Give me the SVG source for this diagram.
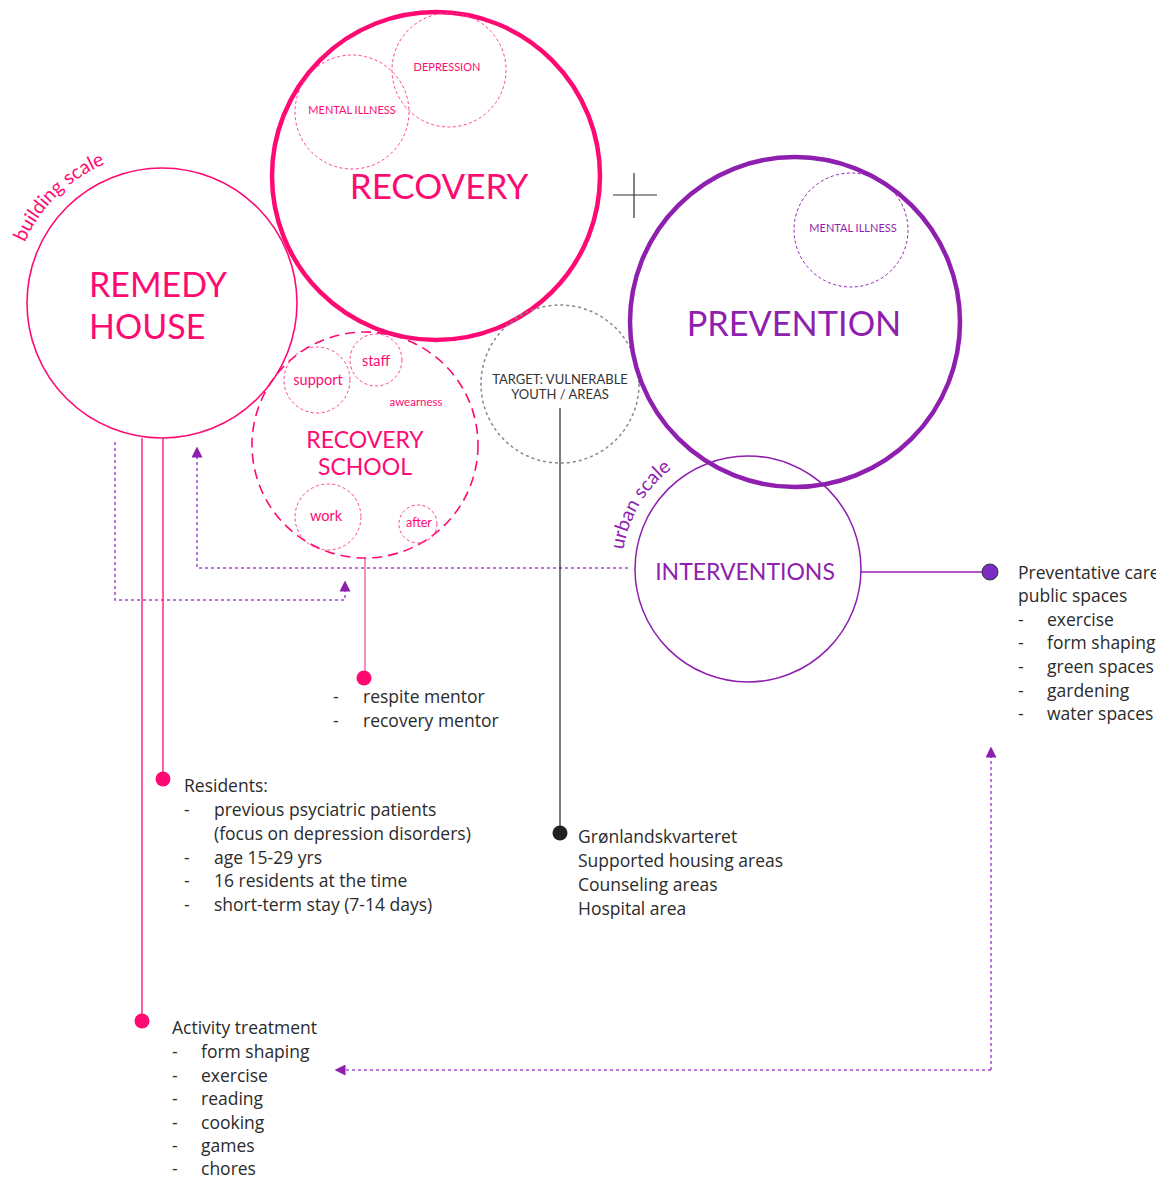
<svg xmlns="http://www.w3.org/2000/svg" width="1156" height="1178" viewBox="0 0 1156 1178">
<style>
.pk{fill:none;stroke:#FF0A73}
.pu{fill:none;stroke:#8E1FAF}
.title{font-family:Lato,"Liberation Sans",sans-serif;fill:#FF0A73}
.tpu{font-family:Lato,"Liberation Sans",sans-serif;fill:#8E1FAF}
.body{font-family:"Open Sans","Liberation Sans",sans-serif;font-size:17.5px;fill:#2b2b2b}
.dpk{fill:none;stroke:#FF3F8E;stroke-width:1;stroke-dasharray:3 2.5}
.dpu{fill:none;stroke:#A24BCF;stroke-width:1.5;stroke-dasharray:3 3}
</style>
<defs>
<path id="arcB" d="M14.3 277 A150 150 0 0 1 188 155.3"/>
<path id="arcU" d="M622.5 580 A126 126 0 0 1 748 443"/>
<marker id="ah" viewBox="0 0 10 10" refX="5" refY="5" markerWidth="11" markerHeight="11" markerUnits="userSpaceOnUse" orient="auto"><path d="M0 0 L10 5 L0 10 z" fill="#8E1FAF"/></marker>
</defs>

<g id="connectors">
<path class="dpu" d="M628 568 H197 V452" marker-end="url(#ah)"/>
<path class="dpu" d="M115 442 V600 H345 V586" marker-end="url(#ah)"/>
<path class="dpu" d="M991 1070 V752" marker-end="url(#ah)"/>
<path class="dpu" d="M991 1070 H340" marker-end="url(#ah)"/>
<line x1="163" y1="438" x2="163" y2="779" stroke="#FF0A73" stroke-width="1.3"/>
<line x1="142" y1="438" x2="142" y2="1021" stroke="#FF0A73" stroke-width="1.3"/>
<line x1="365" y1="558" x2="365" y2="678" stroke="#F06BA0" stroke-width="1.5"/>
<line x1="560" y1="408" x2="560" y2="833" stroke="#222" stroke-width="1.2"/>
<line x1="861" y1="572" x2="990" y2="572" stroke="#9B1FB5" stroke-width="1.5"/>
<circle cx="163" cy="779" r="7.5" fill="#FF0A73"/>
<circle cx="142" cy="1021" r="7.5" fill="#FF0A73"/>
<circle cx="364" cy="678" r="7.5" fill="#FF0A73"/>
<circle cx="560" cy="833" r="7.5" fill="#222"/>
<circle cx="990" cy="572" r="8" fill="#7B2CC4" stroke="#333" stroke-width="1"/>
</g>

<g id="cross">
<line x1="613" y1="195" x2="657" y2="195" stroke="#333" stroke-width="1.2"/>
<line x1="634" y1="173" x2="634" y2="218" stroke="#333" stroke-width="1.2"/>
</g>

<g id="remedy-house">
<circle class="pk" cx="162" cy="303" r="135" stroke-width="1.6"/>
<text class="title" font-size="34" x="89" y="297">REMEDY</text>
<text class="title" font-size="34" x="89" y="339">HOUSE</text>
<text class="title" font-size="19.5"><textPath href="#arcB" startOffset="36">building scale</textPath></text>
</g>

<g id="recovery">
<circle class="pk" cx="436" cy="176" r="164" stroke-width="4.5"/>
<circle class="dpk" cx="352" cy="112" r="57"/>
<circle class="dpk" cx="449" cy="70" r="57"/>
<text class="title" font-size="11" x="352" y="114" text-anchor="middle">MENTAL ILLNESS</text>
<text class="title" font-size="11" x="447" y="71" text-anchor="middle">DEPRESSION</text>
<text class="title" font-size="35" x="439" y="199" text-anchor="middle">RECOVERY</text>
</g>

<g id="recovery-school">
<circle cx="365" cy="445" r="113" fill="none" stroke="#FF0A73" stroke-width="1.6" stroke-dasharray="10 6"/>
<circle class="dpk" cx="317" cy="380" r="33"/>
<circle class="dpk" cx="376" cy="360" r="26"/>
<circle class="dpk" cx="328" cy="517" r="33"/>
<circle class="dpk" cx="418" cy="524" r="19"/>
<text class="title" font-size="14.5" x="318" y="385" text-anchor="middle">support</text>
<text class="title" font-size="14.5" x="376" y="366" text-anchor="middle">staff</text>
<text class="title" font-size="11.5" x="416" y="406" text-anchor="middle">awearness</text>
<text class="title" font-size="14.5" x="326" y="521" text-anchor="middle">work</text>
<text class="title" font-size="12.5" x="419" y="527" text-anchor="middle">after</text>
<text class="title" font-size="23" x="365" y="448" text-anchor="middle">RECOVERY</text>
<text class="title" font-size="23" x="365" y="475" text-anchor="middle">SCHOOL</text>
</g>

<g id="target">
<circle cx="560" cy="384" r="79" fill="none" stroke="#888" stroke-width="1.5" stroke-dasharray="3 3"/>
<text font-family="Lato,'Liberation Sans',sans-serif" font-size="13" fill="#333" x="560" y="384" text-anchor="middle">TARGET: VULNERABLE</text>
<text font-family="Lato,'Liberation Sans',sans-serif" font-size="13" fill="#333" x="560" y="399" text-anchor="middle">YOUTH / AREAS</text>
</g>

<g id="prevention">
<circle class="pu" cx="795" cy="322" r="165" stroke-width="4.5"/>
<circle cx="851" cy="230" r="57" fill="none" stroke="#8E1FAF" stroke-width="1" stroke-dasharray="3 2.5"/>
<text class="tpu" font-size="11" x="853" y="232" text-anchor="middle">MENTAL ILLNESS</text>
<text class="tpu" font-size="34.3" x="794" y="336" text-anchor="middle">PREVENTION</text>
</g>

<g id="interventions">
<circle class="pu" cx="748" cy="569" r="113" stroke-width="1.5"/>
<text class="tpu" font-size="23" x="745" y="580" text-anchor="middle">INTERVENTIONS</text>
<text class="tpu" font-size="19.5"><textPath href="#arcU" startOffset="30">urban scale</textPath></text>
</g>

<g id="list-preventative" class="body">
<text x="1018" y="579">Preventative care</text>
<text x="1018" y="602">public spaces</text>
<text x="1018" y="626">-</text><text x="1047" y="626">exercise</text>
<text x="1018" y="649">-</text><text x="1047" y="649">form shaping</text>
<text x="1018" y="673">-</text><text x="1047" y="673">green spaces</text>
<text x="1018" y="697">-</text><text x="1047" y="697">gardening</text>
<text x="1018" y="720">-</text><text x="1047" y="720">water spaces</text>
</g>

<g id="list-mentor" class="body">
<text x="333" y="703">-</text><text x="363" y="703">respite mentor</text>
<text x="333" y="727">-</text><text x="363" y="727">recovery mentor</text>
</g>

<g id="list-residents" class="body">
<text x="184" y="792">Residents:</text>
<text x="184" y="816">-</text><text x="214" y="816">previous psyciatric patients</text>
<text x="214" y="840">(focus on depression disorders)</text>
<text x="184" y="864">-</text><text x="214" y="864">age 15-29 yrs</text>
<text x="184" y="887">-</text><text x="214" y="887">16 residents at the time</text>
<text x="184" y="911">-</text><text x="214" y="911">short-term stay (7-14 days)</text>
</g>

<g id="list-areas" class="body">
<text x="578" y="843">Grønlandskvarteret</text>
<text x="578" y="867">Supported housing areas</text>
<text x="578" y="891">Counseling areas</text>
<text x="578" y="915">Hospital area</text>
</g>

<g id="list-activity" class="body">
<text x="172" y="1034">Activity treatment</text>
<text x="172" y="1058">-</text><text x="201" y="1058">form shaping</text>
<text x="172" y="1082">-</text><text x="201" y="1082">exercise</text>
<text x="172" y="1105">-</text><text x="201" y="1105">reading</text>
<text x="172" y="1129">-</text><text x="201" y="1129">cooking</text>
<text x="172" y="1152">-</text><text x="201" y="1152">games</text>
<text x="172" y="1175">-</text><text x="201" y="1175">chores</text>
</g>
</svg>
